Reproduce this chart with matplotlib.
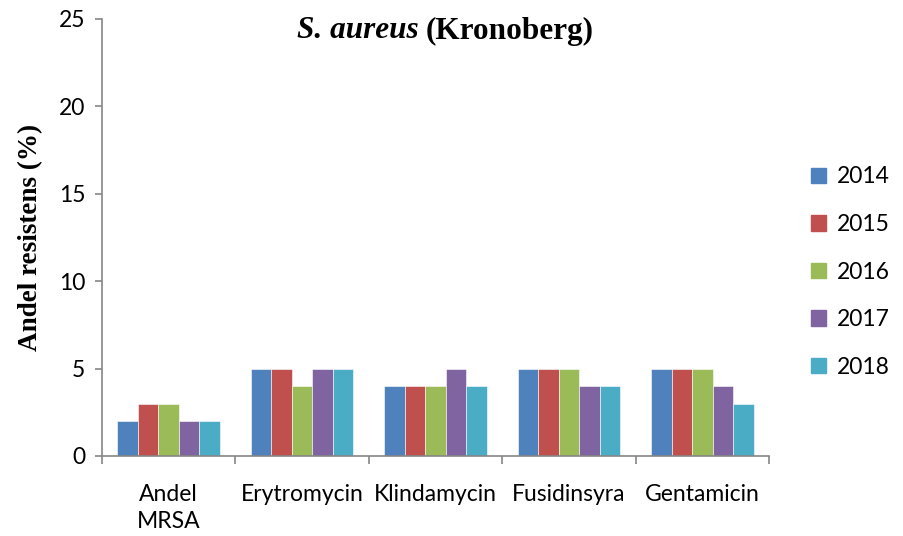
import numpy as np
import matplotlib
matplotlib.use("Agg")
import matplotlib.pyplot as plt
import matplotlib.patches as mpatches

categories = ["Andel\nMRSA", "Erytromycin", "Klindamycin", "Fusidinsyra", "Gentamicin"]
years = ["2014", "2015", "2016", "2017", "2018"]
values = {
    "2014": [2, 5, 4, 5, 5],
    "2015": [3, 5, 4, 5, 5],
    "2016": [3, 4, 4, 5, 5],
    "2017": [2, 5, 5, 4, 4],
    "2018": [2, 5, 4, 4, 3],
}
colors = ["#4F81BD", "#C0504D", "#9BBB59", "#8064A2", "#4BACC6"]

label_font = "Lato"
serif_font = "Liberation Serif"
axis_gray = "#868686"
fs = 16.5

fig = plt.figure(figsize=(9.04, 5.36), dpi=100, facecolor="white")
ax = fig.add_axes([0.1128, 0.1493, 0.7379, 0.8153])

x = np.arange(len(categories))
bw = 0.154
for i, yr in enumerate(years):
    ax.bar(x + (i - 2) * bw, values[yr], width=bw, color=colors[i],
           edgecolor="white", linewidth=0.4, label=yr, zorder=2)

ax.set_xlim(-0.5, len(categories) - 0.5)
ax.set_ylim(0, 25)
ax.set_yticks(range(0, 26, 5))
ax.set_xticks(x)
ax.set_xticklabels(categories, fontfamily=label_font, fontsize=fs,
                   linespacing=1.35, va="top")
ax.set_xticks(np.arange(-0.5, len(categories)), minor=True)
ax.tick_params(axis="x", which="major", length=0, pad=20)
ax.tick_params(axis="x", which="minor", length=6, color=axis_gray, width=1.2)
ax.tick_params(axis="y", length=5, color=axis_gray, width=1.2, pad=7)
for lab in ax.get_yticklabels():
    lab.set_fontfamily(label_font)
    lab.set_fontsize(fs)

for s in ["top", "right"]:
    ax.spines[s].set_visible(False)
for s in ["left", "bottom"]:
    ax.spines[s].set_color(axis_gray)
    ax.spines[s].set_linewidth(1.2)

ax.set_ylabel("Andel resistens (%)", fontfamily=serif_font, fontweight="bold",
              fontsize=19.5, labelpad=11)

fig.text(419 / 904, 1 - 31 / 536, "S. aureus", fontfamily=serif_font,
         fontstyle="italic", fontweight="bold", fontsize=22.5, ha="right", va="center")
fig.text(426 / 904, 1 - 31 / 536, "(Kronoberg)", fontfamily=serif_font,
         fontweight="bold", fontsize=22.5, ha="left", va="center")

handles = [mpatches.Patch(color=c, label=y) for c, y in zip(colors, years)]
fig.legend(handles=handles, loc="center left", bbox_to_anchor=(0.897, 0.4925),
           frameon=False, borderpad=0, borderaxespad=0, handlelength=0.65,
           handleheight=0.65, handletextpad=0.5, labelspacing=1.16,
           prop={"family": label_font, "size": fs})

fig.savefig("out.png", dpi=100, facecolor="white")
